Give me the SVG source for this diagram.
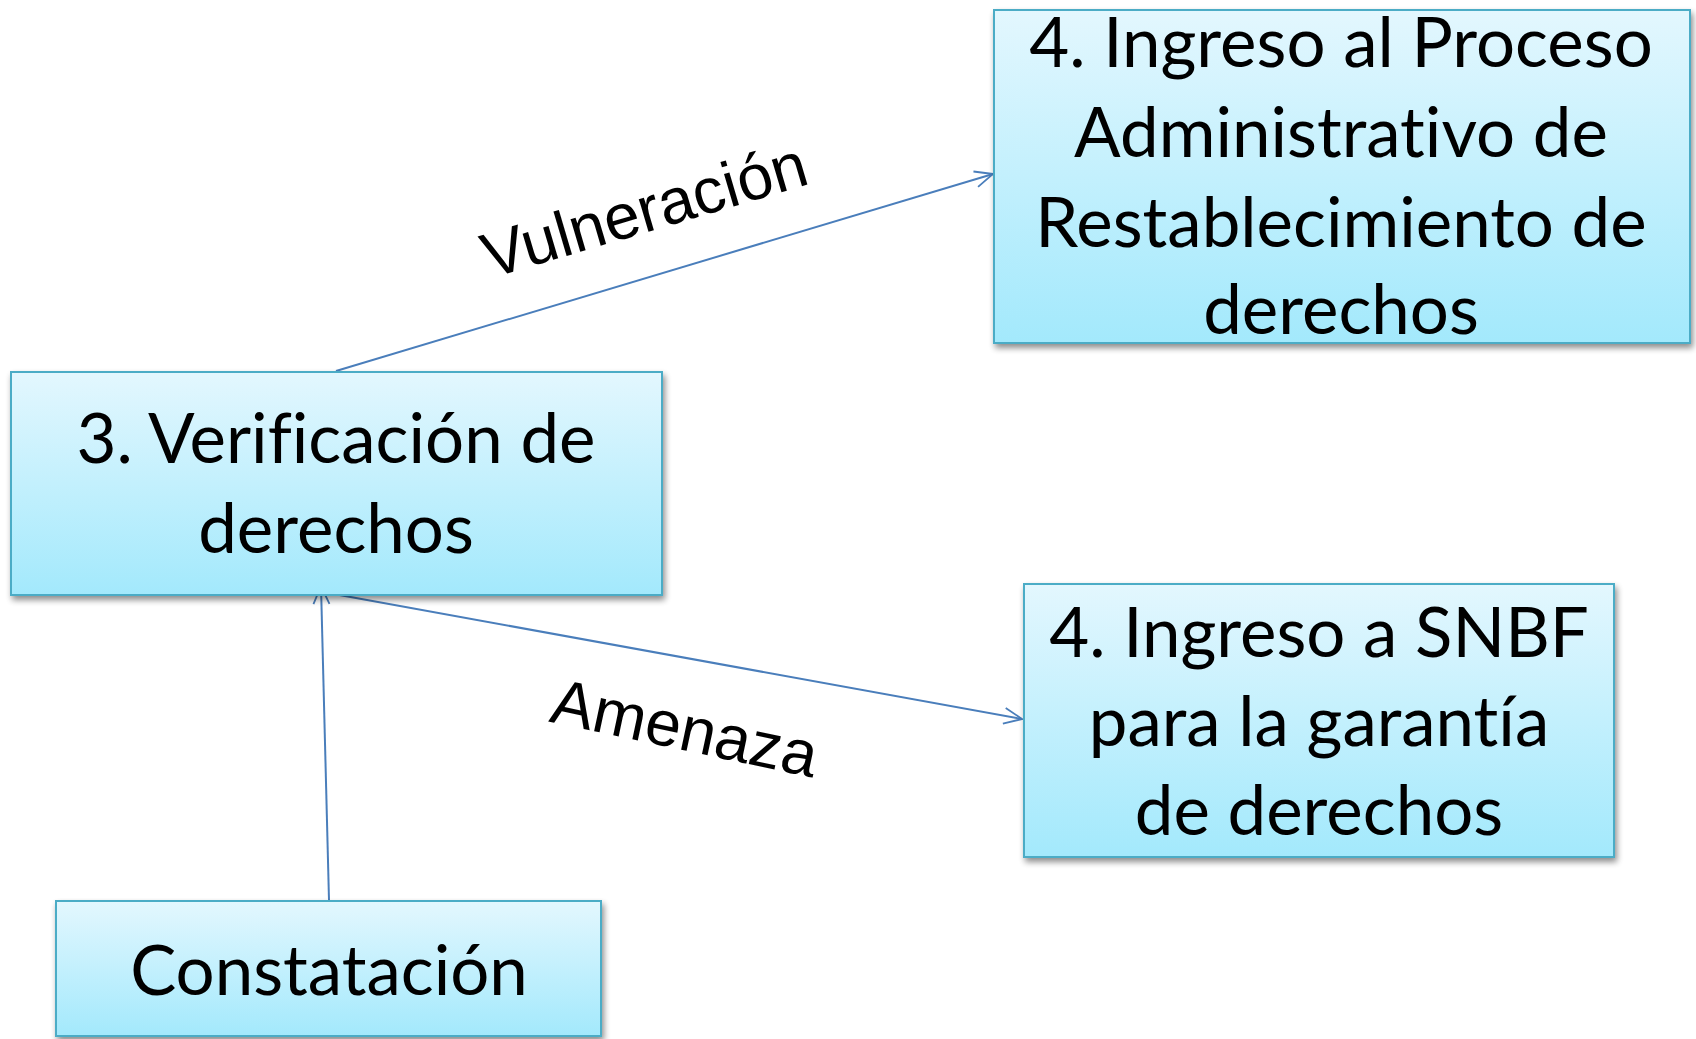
<svg xmlns="http://www.w3.org/2000/svg" width="1696" height="1039" viewBox="0 0 1696 1039">
<defs>
<linearGradient id="g" x1="0" y1="0" x2="0" y2="1">
<stop offset="0" stop-color="#E3F7FE"/>
<stop offset="1" stop-color="#A3E9FC"/>
</linearGradient>
<filter id="sh" x="-5%" y="-5%" width="112%" height="115%">
<feGaussianBlur in="SourceAlpha" stdDeviation="3"/>
<feOffset dx="2" dy="4" result="b"/>
<feComponentTransfer><feFuncA type="linear" slope="0.45"/></feComponentTransfer>
<feMerge><feMergeNode/><feMergeNode in="SourceGraphic"/></feMerge>
</filter>
<marker id="arr" viewBox="0 0 20 20" refX="19" refY="10" markerWidth="20" markerHeight="20" markerUnits="userSpaceOnUse" orient="auto">
<path d="M1,2 L19,10 L1,18" fill="none" stroke="#4A7EBB" stroke-width="1.8"/>
</marker>
</defs>
<style>
.box{fill:url(#g);stroke:#4BACC6;stroke-width:2;filter:url(#sh)}
.t{font-family:Lato,"Open Sans",sans-serif;font-size:69px;fill:#000;text-anchor:middle;font-variant-ligatures:none;font-feature-settings:"liga" 0}
.c{fill:none;stroke:#4A7EBB;stroke-width:2}
.lbl{font-family:"Liberation Sans",Arial,sans-serif;font-size:64px;fill:#000;text-anchor:middle}
</style>
<rect width="1696" height="1039" fill="#fff"/>
<g id="connectors">
<line class="c" x1="336" y1="371" x2="993" y2="174" marker-end="url(#arr)"/>
<line class="c" x1="334" y1="594" x2="1022" y2="719" marker-end="url(#arr)"/>
<line class="c" x1="329" y1="900" x2="321" y2="586" marker-end="url(#arr)"/>
<text class="lbl" transform="translate(644,209) rotate(-16.5)" x="0" y="23">Vulneración</text>
<text class="lbl" transform="translate(685,727) rotate(12)" x="0" y="23">Amenaza</text>
</g>
<g id="node-proceso">
<rect class="box" x="994" y="10" width="696" height="333"/>
<text class="t" x="1341" y="67">4. Ingreso al Proceso</text>
<text class="t" x="1341" y="157">Administrativo de</text>
<text class="t" x="1341" y="247">Restablecimiento de</text>
<text class="t" x="1341" y="334">derechos</text>
</g>
<g id="node-verificacion">
<rect class="box" x="11" y="372" width="651" height="223"/>
<text class="t" x="336" y="463">3. Verificación de</text>
<text class="t" x="336" y="553">derechos</text>
</g>
<g id="node-snbf">
<rect class="box" x="1024" y="584" width="590" height="273"/>
<text class="t" x="1319" y="657">4. Ingreso a SNBF</text>
<text class="t" x="1319" y="746">para la garantía</text>
<text class="t" x="1319" y="835">de derechos</text>
</g>
<g id="node-constatacion">
<rect class="box" x="56" y="901" width="545" height="135"/>
<text class="t" x="329" y="995">Constatación</text>
</g>
</svg>
